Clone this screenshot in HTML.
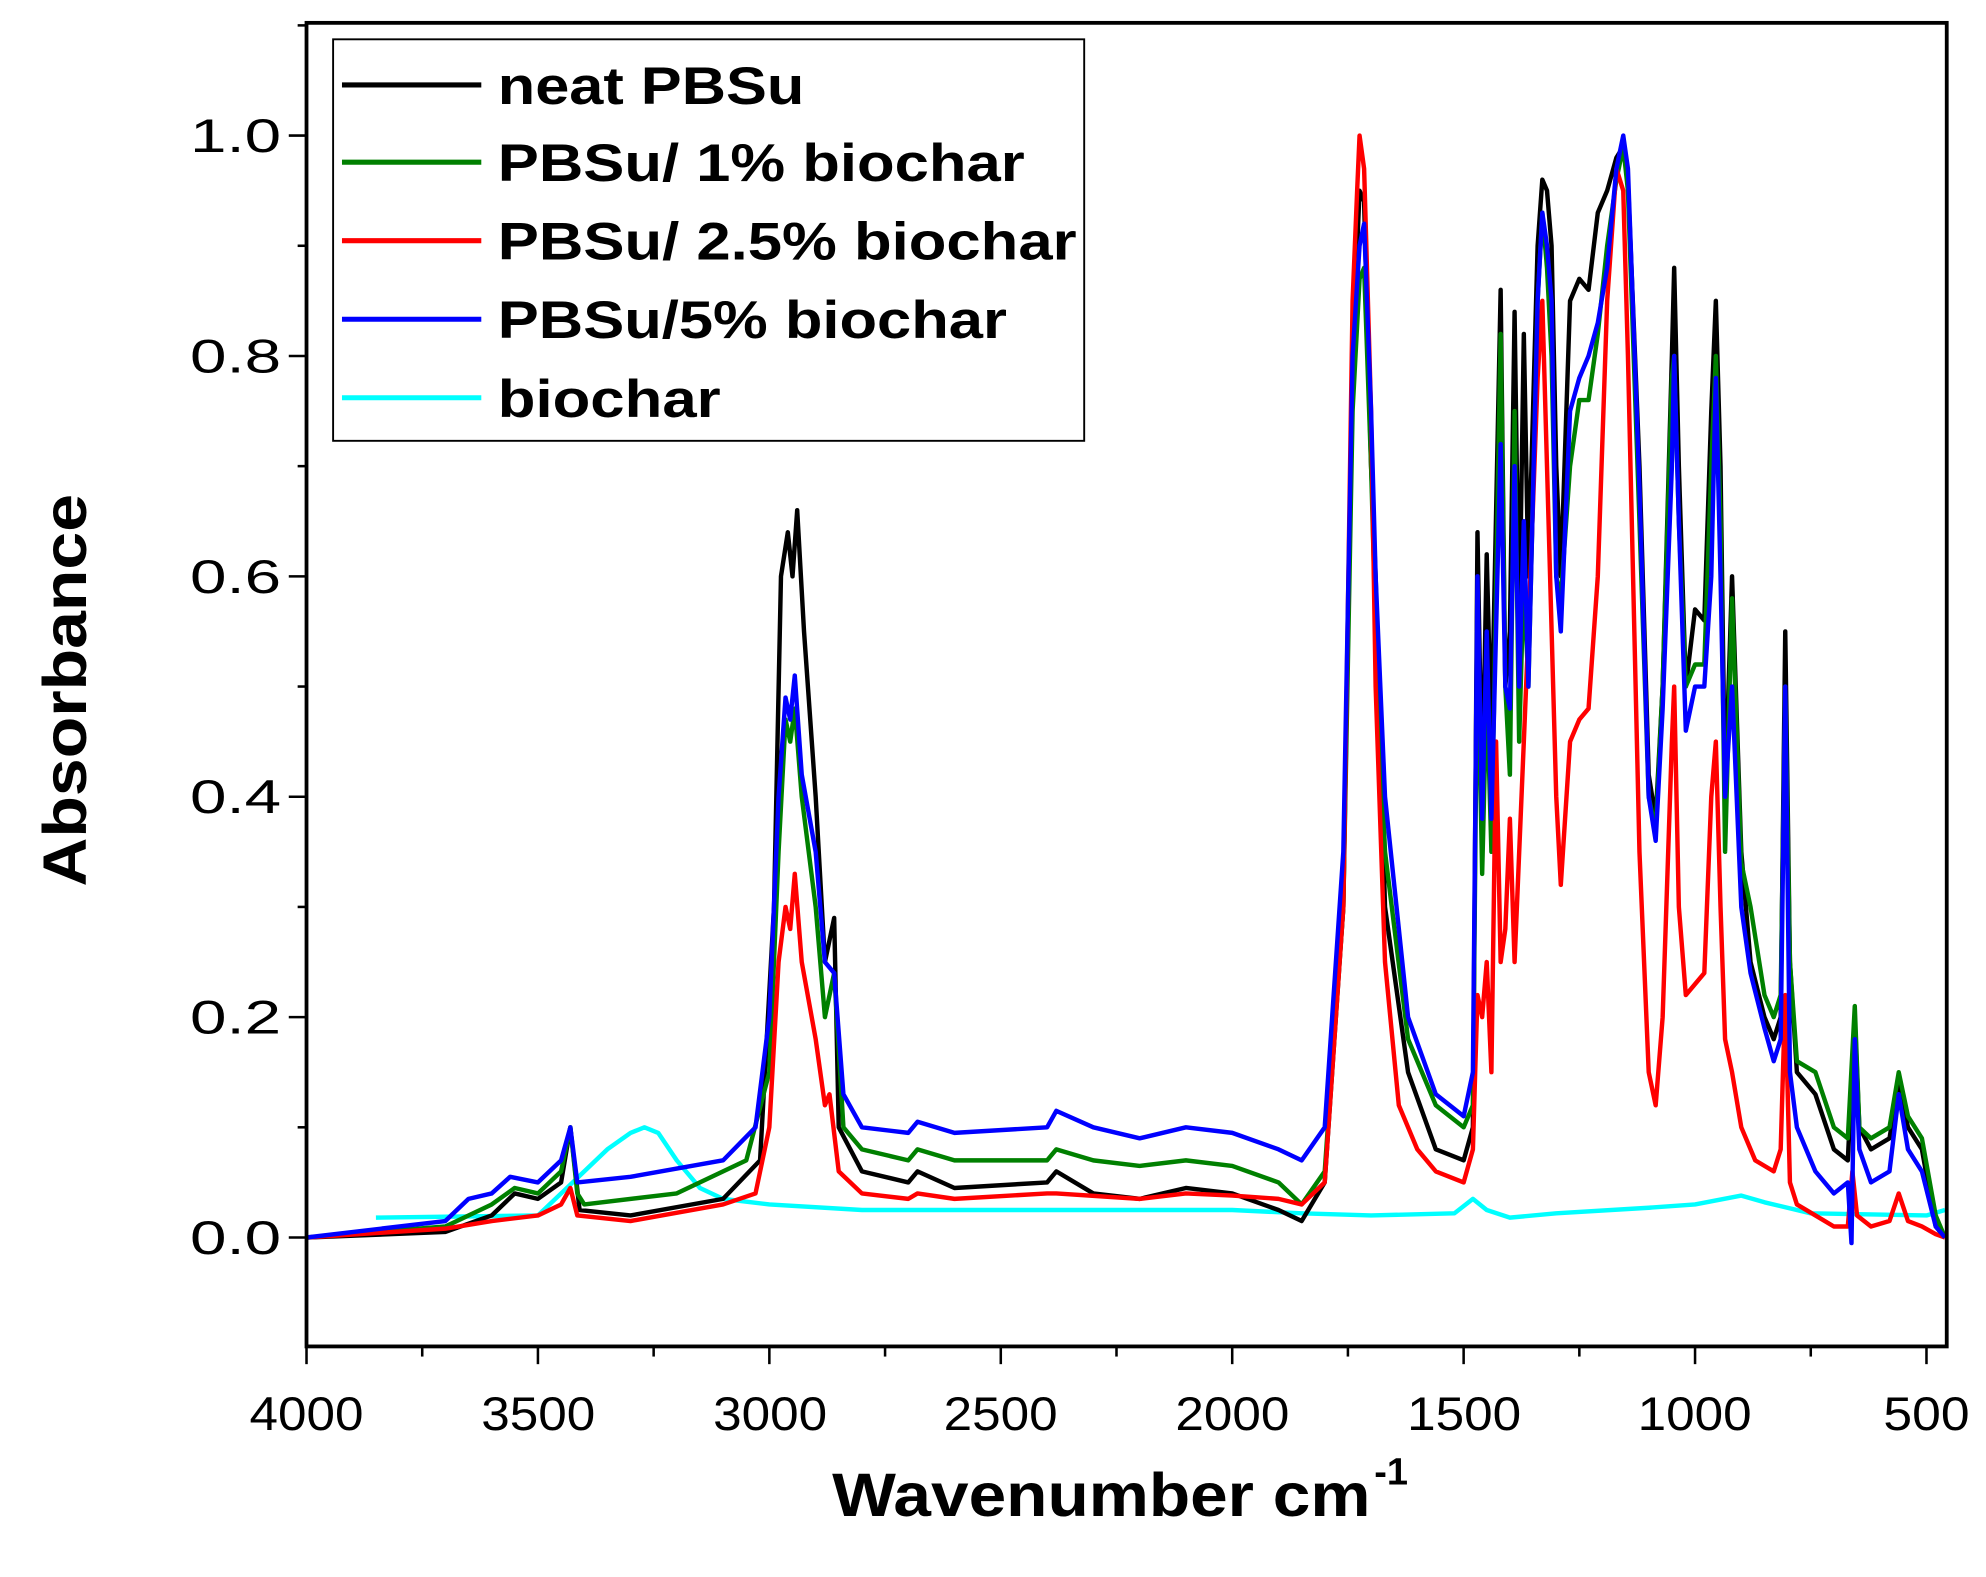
<!DOCTYPE html>
<html><head><meta charset="utf-8"><style>
html,body{margin:0;padding:0;background:#fff;}
svg{display:block;}
text{font-family:"Liberation Sans",Arial,sans-serif;}
</style></head><body>
<svg id="s" width="1986" height="1577" viewBox="0 0 1568 1245" xmlns="http://www.w3.org/2000/svg">
<rect x="0" y="0" width="1568" height="1245" fill="#fff"/>
<g id="curves" fill="none" stroke-width="3.5" stroke-linejoin="round"></g>
<rect x="242" y="18" width="1295" height="1045" fill="none" stroke="#000" stroke-width="3"/>
<g id="ticks" stroke="#000" stroke-width="2"></g>
<g font-size="37" fill="#000" text-anchor="middle">
<text x="242" y="1129" textLength="90" lengthAdjust="spacingAndGlyphs">4000</text>
<text x="425" y="1129" textLength="90" lengthAdjust="spacingAndGlyphs">3500</text>
<text x="608" y="1129" textLength="90" lengthAdjust="spacingAndGlyphs">3000</text>
<text x="790" y="1129" textLength="90" lengthAdjust="spacingAndGlyphs">2500</text>
<text x="973" y="1129" textLength="90" lengthAdjust="spacingAndGlyphs">2000</text>
<text x="1156" y="1129" textLength="90" lengthAdjust="spacingAndGlyphs">1500</text>
<text x="1338" y="1129" textLength="90" lengthAdjust="spacingAndGlyphs">1000</text>
<text x="1521" y="1129" textLength="68" lengthAdjust="spacingAndGlyphs">500</text>
</g>
<g font-size="37" fill="#000" text-anchor="end">
<text x="222" y="990" textLength="72" lengthAdjust="spacingAndGlyphs">0.0</text>
<text x="222" y="816" textLength="72" lengthAdjust="spacingAndGlyphs">0.2</text>
<text x="222" y="642" textLength="72" lengthAdjust="spacingAndGlyphs">0.4</text>
<text x="222" y="468" textLength="72" lengthAdjust="spacingAndGlyphs">0.6</text>
<text x="222" y="294" textLength="72" lengthAdjust="spacingAndGlyphs">0.8</text>
<text x="222" y="120" textLength="72" lengthAdjust="spacingAndGlyphs">1.0</text>
</g>
<text x="657" y="1197" font-size="48" font-weight="bold" textLength="425" lengthAdjust="spacingAndGlyphs">Wavenumber cm</text>
<text x="1085" y="1172" font-size="30" font-weight="bold">-1</text>
<text transform="translate(68,545) rotate(-90)" font-size="48" font-weight="bold" text-anchor="middle" textLength="310" lengthAdjust="spacingAndGlyphs">Absorbance</text>
<rect x="263" y="31" width="593" height="317" fill="#fff" stroke="#000" stroke-width="1.5"/>
<g stroke-width="4">
<line x1="270" y1="67" x2="380" y2="67" stroke="#000"/>
<line x1="270" y1="128" x2="380" y2="128" stroke="#008000"/>
<line x1="270" y1="190" x2="380" y2="190" stroke="#ff0000"/>
<line x1="270" y1="252" x2="380" y2="252" stroke="#0000ff"/>
<line x1="270" y1="314" x2="380" y2="314" stroke="#00ffff"/>
</g>
<g font-size="42" font-weight="bold" fill="#000">
<text x="393" y="82" textLength="242" lengthAdjust="spacingAndGlyphs">neat PBSu</text>
<text x="393" y="143" textLength="416" lengthAdjust="spacingAndGlyphs">PBSu/ 1% biochar</text>
<text x="393" y="205" textLength="457" lengthAdjust="spacingAndGlyphs">PBSu/ 2.5% biochar</text>
<text x="393" y="267" textLength="402" lengthAdjust="spacingAndGlyphs">PBSu/5% biochar</text>
<text x="393" y="329" textLength="176" lengthAdjust="spacingAndGlyphs">biochar</text>
</g>
</svg>
<script>
(function(){
var X=function(w){return 242+(4000-w)*0.36543;};
var Y=function(a){return 977-a*870;};
var NS="http://www.w3.org/2000/svg";
var t=document.getElementById("ticks");
function ln(x1,y1,x2,y2){var l=document.createElementNS(NS,"line");l.setAttribute("x1",x1);l.setAttribute("y1",y1);l.setAttribute("x2",x2);l.setAttribute("y2",y2);t.appendChild(l);}
for(var w=4000;w>=500;w-=250){var x=X(w);ln(x,1063,x,(w%500==0)?1077:1071);}
for(var a=-0.1;a<=1.1;a+=0.1){var k=Math.round(a*10);var y=Y(k/10);if(y<18||y>1063)continue;ln(242,y,(k%2==0)?228:235,y);}
function P(s){var v=s.split(/[ ,]+/).filter(Boolean).map(Number);var d="";for(var i=0;i<v.length;i+=2){d+=(i?"L":"M")+X(v[i]).toFixed(1)+" "+Y(v[i+1]).toFixed(1);}return d;}
var data=[
["#00ffff","3850,0.018 3500,0.02 3450,0.04 3400,0.06 3350,0.08 3300,0.095 3270,0.1 3240,0.095 3200,0.07 3150,0.045 3100,0.035 3000,0.03 2800,0.025 2000,0.025 1850,0.022 1700,0.02 1520,0.022 1480,0.035 1450,0.025 1400,0.018 1300,0.022 1100,0.027 1000,0.03 900,0.038 850,0.032 750,0.022 500,0.02 460,0.025"],
["#000000","4000,0 3700,0.005 3600,0.02 3550,0.04 3500,0.035 3450,0.05 3430,0.1 3410,0.025 3300,0.02 3100,0.035 3020,0.07 2990,0.3 2975,0.6 2960,0.64 2950,0.6 2940,0.66 2925,0.55 2900,0.4 2880,0.25 2860,0.29 2850,0.1 2800,0.06 2700,0.05 2680,0.06 2600,0.045 2400,0.05 2380,0.06 2300,0.04 2200,0.035 2100,0.045 2000,0.04 1900,0.025 1850,0.015 1800,0.05 1760,0.3 1740,0.8 1725,0.95 1715,0.94 1700,0.7 1690,0.6 1670,0.3 1620,0.15 1560,0.08 1500,0.07 1480,0.1 1470,0.64 1460,0.4 1450,0.62 1440,0.45 1420,0.86 1410,0.5 1400,0.55 1390,0.84 1380,0.55 1370,0.82 1360,0.6 1340,0.9 1330,0.96 1320,0.95 1310,0.9 1300,0.7 1290,0.6 1270,0.85 1250,0.87 1230,0.86 1210,0.93 1190,0.95 1170,0.98 1155,0.99 1145,0.96 1120,0.7 1100,0.42 1085,0.38 1070,0.5 1050,0.8 1045,0.88 1035,0.7 1020,0.5 1000,0.57 980,0.56 965,0.75 955,0.85 945,0.7 935,0.4 920,0.6 900,0.35 880,0.25 850,0.2 830,0.18 815,0.2 805,0.55 795,0.25 780,0.15 740,0.13 700,0.08 670,0.07 655,0.2 645,0.1 620,0.08 580,0.09 560,0.14 540,0.1 510,0.08 480,0.01 460,0"],
["#008000","4000,0 3700,0.01 3600,0.03 3550,0.045 3500,0.04 3450,0.06 3430,0.1 3415,0.04 3400,0.03 3200,0.04 3050,0.07 3000,0.15 2980,0.35 2965,0.47 2955,0.45 2945,0.48 2930,0.4 2900,0.3 2880,0.2 2860,0.24 2840,0.1 2800,0.08 2700,0.07 2680,0.08 2600,0.07 2400,0.07 2380,0.08 2300,0.07 2200,0.065 2100,0.07 2000,0.065 1900,0.05 1850,0.03 1800,0.06 1760,0.3 1740,0.75 1725,0.87 1715,0.88 1700,0.7 1690,0.55 1670,0.35 1620,0.18 1560,0.12 1500,0.1 1480,0.12 1470,0.55 1460,0.33 1450,0.5 1440,0.35 1420,0.82 1410,0.5 1400,0.42 1390,0.75 1380,0.45 1370,0.6 1360,0.5 1340,0.85 1330,0.93 1320,0.88 1310,0.8 1300,0.6 1290,0.58 1270,0.7 1250,0.76 1230,0.76 1210,0.82 1190,0.9 1170,0.96 1155,0.99 1145,0.95 1120,0.65 1100,0.4 1085,0.37 1070,0.5 1050,0.78 1045,0.8 1035,0.65 1020,0.5 1000,0.52 980,0.52 965,0.7 955,0.8 945,0.65 935,0.35 920,0.58 900,0.34 880,0.3 850,0.22 830,0.2 815,0.22 805,0.5 795,0.25 780,0.16 740,0.15 700,0.1 670,0.09 655,0.21 645,0.1 620,0.09 580,0.1 560,0.15 540,0.11 510,0.09 480,0.02 460,0"],
["#ff0000","4000,0 3700,0.008 3600,0.015 3500,0.02 3450,0.03 3430,0.045 3415,0.02 3300,0.015 3100,0.03 3030,0.04 3000,0.1 2980,0.25 2965,0.3 2955,0.28 2945,0.33 2930,0.25 2900,0.18 2880,0.12 2870,0.13 2850,0.06 2800,0.04 2700,0.035 2680,0.04 2600,0.035 2400,0.04 2380,0.04 2200,0.035 2100,0.04 2000,0.038 1900,0.035 1850,0.03 1800,0.05 1760,0.3 1740,0.85 1730,0.95 1725,1.0 1715,0.97 1700,0.75 1690,0.5 1670,0.25 1640,0.12 1600,0.08 1560,0.06 1500,0.05 1480,0.08 1470,0.22 1460,0.2 1450,0.25 1440,0.15 1430,0.45 1420,0.25 1410,0.28 1400,0.38 1390,0.25 1370,0.45 1360,0.55 1340,0.78 1330,0.85 1320,0.7 1300,0.4 1290,0.32 1270,0.45 1250,0.47 1230,0.48 1210,0.6 1190,0.85 1170,0.97 1155,0.95 1145,0.8 1120,0.35 1100,0.15 1085,0.12 1070,0.2 1050,0.45 1045,0.5 1035,0.3 1020,0.22 1000,0.23 980,0.24 965,0.4 955,0.45 945,0.3 935,0.18 920,0.15 900,0.1 870,0.07 830,0.06 815,0.08 805,0.22 795,0.05 780,0.03 740,0.02 700,0.01 670,0.01 660,0.06 650,0.02 620,0.01 580,0.015 560,0.04 540,0.015 510,0.01 480,0.003 460,0"],
["#0000ff","4000,0 3700,0.015 3650,0.035 3600,0.04 3560,0.055 3500,0.05 3450,0.07 3430,0.1 3415,0.05 3300,0.055 3100,0.07 3030,0.1 3000,0.2 2980,0.4 2965,0.49 2955,0.47 2945,0.51 2930,0.42 2900,0.35 2880,0.25 2860,0.24 2840,0.13 2800,0.1 2700,0.095 2680,0.105 2600,0.095 2400,0.1 2380,0.115 2300,0.1 2200,0.09 2100,0.1 2000,0.095 1900,0.08 1850,0.07 1800,0.1 1760,0.35 1740,0.8 1725,0.9 1715,0.92 1700,0.75 1690,0.6 1670,0.4 1620,0.2 1560,0.13 1500,0.11 1480,0.15 1470,0.6 1460,0.38 1450,0.55 1440,0.38 1420,0.72 1410,0.5 1400,0.48 1390,0.7 1380,0.5 1370,0.65 1360,0.5 1340,0.85 1330,0.93 1320,0.9 1310,0.85 1300,0.6 1290,0.55 1270,0.75 1250,0.78 1230,0.8 1210,0.83 1190,0.88 1170,0.97 1155,1.0 1145,0.97 1120,0.68 1100,0.4 1085,0.36 1070,0.48 1050,0.7 1045,0.8 1035,0.65 1020,0.46 1000,0.5 980,0.5 965,0.6 955,0.78 945,0.6 935,0.4 920,0.5 900,0.3 880,0.24 850,0.19 830,0.16 815,0.18 805,0.5 795,0.15 780,0.1 740,0.06 700,0.04 670,0.05 662,-0.005 655,0.18 645,0.08 620,0.05 580,0.06 560,0.13 540,0.08 510,0.06 480,0.01 460,0"]
];
var g=document.getElementById("curves");
data.forEach(function(s){var p=document.createElementNS(NS,"path");p.setAttribute("d",P(s[1]));p.setAttribute("stroke",s[0]);g.appendChild(p);});
})();
</script>
</body></html>
